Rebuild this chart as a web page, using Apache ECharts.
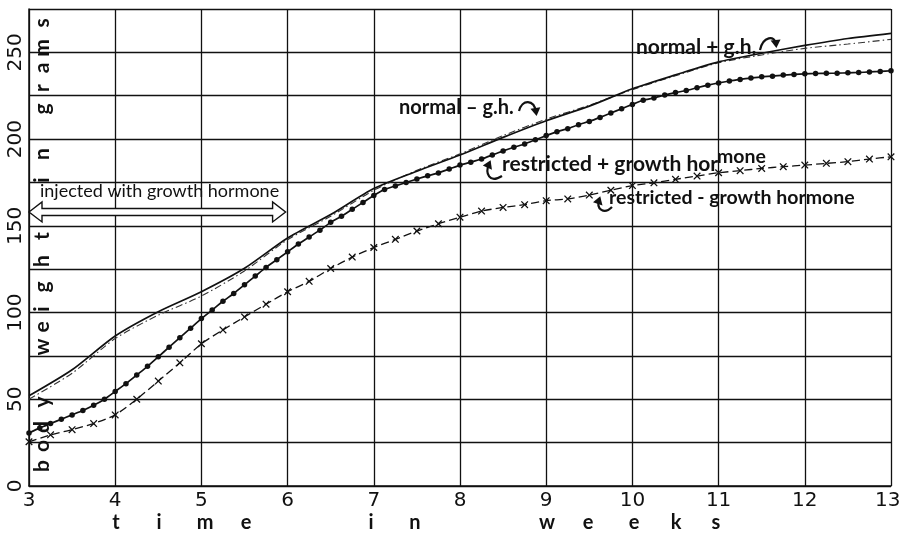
<!DOCTYPE html>
<html>
<head>
<meta charset="utf-8">
<script src="https://cdn.jsdelivr.net/npm/echarts@6/dist/echarts.min.js"></script>
<style>
  html, body { margin: 0; padding: 0; background: #fff; }
  #chart { width: 901px; height: 535px; }
</style>
</head>
<body>
<div id="chart"></div>
<script>
// Body weight (grams) against age (weeks)
const weeksHalf = [3, 3.5, 4, 4.5, 5, 5.5, 6, 6.5, 7, 7.5, 8, 8.5, 9, 9.5, 10, 10.5, 11, 11.5, 12, 12.5, 13];
const normalPlusGH = [52, 67, 86.5, 100.5, 112, 125.5, 143, 156.5, 171.5, 181.5, 190.8, 201, 210.6, 219, 229, 237, 244.5, 249.5, 254, 258, 261];
const normalMinusGH = [50, 65, 85, 98.5, 109.5, 124, 142, 155.5, 170.5, 182, 191.5, 202, 211.5, 219.5, 228.5, 236.5, 244, 248.5, 252.3, 254.8, 257.5];

// restricted + growth hormone, read every eighth of a week
const weeksEighth = [
  3, 3.125, 3.25, 3.375, 3.5, 3.625, 3.75, 3.875,
  4, 4.125, 4.25, 4.375, 4.5, 4.625, 4.75, 4.875,
  5, 5.125, 5.25, 5.375, 5.5, 5.625, 5.75, 5.875,
  6, 6.125, 6.25, 6.375, 6.5, 6.625, 6.75, 6.875,
  7, 7.125, 7.25, 7.375, 7.5, 7.625, 7.75, 7.875,
  8, 8.125, 8.25, 8.375, 8.5, 8.625, 8.75, 8.875,
  9, 9.125, 9.25, 9.375, 9.5, 9.625, 9.75, 9.875,
  10, 10.125, 10.25, 10.375, 10.5, 10.625, 10.75, 10.875,
  11, 11.125, 11.25, 11.375, 11.5, 11.625, 11.75, 11.875,
  12, 12.125, 12.25, 12.375, 12.5, 12.625, 12.75, 12.875, 13
];
const restrictedPlusGH = [
  30.5, 33.5, 36, 38.5, 41, 43.5, 46.5, 50,
  54.5, 59, 64, 69, 74.5, 80, 85.5, 91,
  96.5, 101.5, 106.5, 111, 116, 121, 126, 130.5,
  135, 139.5, 143.5, 147.5, 152, 155.5, 159.5, 163.5,
  167.5, 171, 173, 175, 177, 178.8, 180.5, 182.7,
  185, 186.7, 188.5, 190.8, 193.2, 195.3, 197.2, 199.6,
  202, 204.3, 206, 208.3, 210.2, 212.5, 215, 217.5,
  220, 222.4, 223.7, 225.4, 226.8, 228, 229.6, 231.1,
  232.4, 233.5, 234.4, 235.2, 235.9, 236.3, 236.9, 237.3,
  237.6, 237.8, 237.9, 238, 238.2, 238.4, 238.7, 239, 239.4
];

// restricted - growth hormone, read every quarter week
const weeksQuarter = [
  3, 3.25, 3.5, 3.75, 4, 4.25, 4.5, 4.75, 5, 5.25, 5.5, 5.75,
  6, 6.25, 6.5, 6.75, 7, 7.25, 7.5, 7.75, 8, 8.25, 8.5, 8.75,
  9, 9.25, 9.5, 9.75, 10, 10.25, 10.5, 10.75, 11, 11.25, 11.5, 11.75,
  12, 12.25, 12.5, 12.75, 13
];
const restrictedMinusGH = [
  25.5, 29.5, 32.5, 36, 41, 50, 60.5, 71, 82, 90, 97.5, 104.8,
  112, 118, 125.4, 132, 137.5, 142.2, 147, 151.2, 155, 158.5, 160.6, 162.2,
  164.5, 165.5, 167.7, 170.5, 173.2, 174.8, 176.8, 178.7, 180.6, 181.8, 183.1, 184.1,
  185, 186, 187, 188.5, 189.8
];

const yTickLabels = [0, 50, 100, 150, 200, 250];
const injectionPeriod = [3, 6];        // weeks
const injectionLevel = 158;            // grams, height of the bracket arrow

const pairs = (xs, ys) => xs.map((x, i) => [x, ys[i]]);
const INK = '#111111';
const crossSymbol = 'path://M0,1.2L1.2,0L5,3.8L8.8,0L10,1.2L6.2,5L10,8.8L8.8,10L5,6.2L1.2,10L0,8.8L3.8,5Z';

const chart = echarts.init(document.getElementById('chart'), null, { renderer: 'canvas' });

const option = {
  backgroundColor: '#ffffff',
  animation: false,
  grid: { left: 29, right: 10, top: 9, bottom: 49, show: false, containLabel: false, outerBoundsMode: 'none' },
  xAxis: {
    type: 'value', min: 3, max: 13, interval: 1,
    axisLine: { show: true, lineStyle: { color: INK, width: 1.5 } },
    axisTick: { show: false },
    splitLine: { show: true, lineStyle: { color: INK, width: 1.3 } },
    axisLabel: {
      color: INK, fontFamily: 'DejaVu Sans', fontSize: 20, margin: 5,
      formatter: v => (v === 13 ? '13 ' : String(v))
    }
  },
  yAxis: {
    type: 'value', min: 0, max: 275, interval: 25,
    axisLine: { show: true, lineStyle: { color: INK, width: 1.5 } },
    axisTick: { show: false },
    splitLine: { show: true, lineStyle: { color: INK, width: 1.3 } },
    axisLabel: {
      color: INK, fontFamily: 'DejaVu Sans', fontSize: 20, rotate: 90, margin: 3,
      formatter: v => (yTickLabels.indexOf(v) >= 0 ? String(v) : '')
    }
  },
  series: [
    {
      name: 'normal + g.h.', type: 'line', data: pairs(weeksHalf, normalPlusGH),
      smooth: 0.25, showSymbol: false, lineStyle: { color: INK, width: 1.7 }, z: 4
    },
    {
      name: 'normal - g.h.', type: 'line', data: pairs(weeksHalf, normalMinusGH),
      smooth: 0.25, showSymbol: false, lineStyle: { color: '#333', width: 1.1, type: [7, 3, 1.5, 3] }, z: 3
    },
    {
      name: 'restricted + growth hormone', type: 'line', data: pairs(weeksEighth, restrictedPlusGH),
      smooth: 0.2, symbol: 'circle', symbolSize: 5.5, showSymbol: true,
      itemStyle: { color: INK }, lineStyle: { color: INK, width: 1.7 }, z: 5
    },
    {
      name: 'restricted - growth hormone', type: 'line', data: pairs(weeksQuarter, restrictedMinusGH),
      smooth: 0.2, symbol: crossSymbol, symbolSize: 7.5, showSymbol: true,
      itemStyle: { color: INK }, lineStyle: { color: INK, width: 1.3, type: [8, 4] }, z: 5
    }
  ]
};
chart.setOption(option);

// ---- annotations --------------------------------------------------------
const annoFont = 'Lato';
const graphics = [];

function label(text, x, y, size, weight) {
  graphics.push({
    type: 'text', x: x, y: y, z: 20,
    style: { text: text, fill: INK, font: (weight || 'bold') + ' ' + (size || 20) + 'px ' + annoFont,
             textVerticalAlign: 'middle', textAlign: 'left' }
  });
}

function curlArrow(p0, c1, c2, p1) {
  graphics.push({
    type: 'bezierCurve', z: 20,
    shape: { x1: p0[0], y1: p0[1], cpx1: c1[0], cpy1: c1[1], cpx2: c2[0], cpy2: c2[1], x2: p1[0], y2: p1[1] },
    style: { stroke: INK, lineWidth: 2.2, fill: null }
  });
  const ang = Math.atan2(p1[1] - c2[1], p1[0] - c2[0]);
  const L = 8, W = 5;
  const tip = [p1[0] + Math.cos(ang) * 4, p1[1] + Math.sin(ang) * 4];
  const bx = tip[0] - Math.cos(ang) * L, by = tip[1] - Math.sin(ang) * L;
  graphics.push({
    type: 'polygon', z: 20,
    shape: { points: [tip, [bx - Math.sin(ang) * W, by + Math.cos(ang) * W], [bx + Math.sin(ang) * W, by - Math.cos(ang) * W]] },
    style: { fill: INK }
  });
}

// series labels
label('normal \u2013 g.h.', 399, 108);
curlArrow([519, 111], [522, 99], [534, 99], [536, 112]);

label('normal + g.h.', 636, 47, 21);
curlArrow([760, 50], [763, 36], [775, 35], [776, 44]);

label('restricted + growth hor', 502, 164, 21);
label('mone', 717, 157, 19.5);
curlArrow([502, 176], [489, 184], [485, 173], [489, 164]);

label('restricted - growth hormone', 609, 198, 19.5);
curlArrow([612, 207], [604, 215], [596, 209], [599, 200]);

// injection period bracket: hollow double-headed arrow
const pA = chart.convertToPixel({ gridIndex: 0 }, [injectionPeriod[0], injectionLevel]);
const pB = chart.convertToPixel({ gridIndex: 0 }, [injectionPeriod[1], injectionLevel]);
const yc = pA[1], x0 = pA[0], x1 = pB[0] - 2;
const hl = 13, hh = 10, sh = 3.5;
graphics.push({
  type: 'polygon', z: 20,
  shape: { points: [
    [x0, yc], [x0 + hl, yc - hh], [x0 + hl, yc - sh], [x1 - hl, yc - sh], [x1 - hl, yc - hh],
    [x1, yc], [x1 - hl, yc + hh], [x1 - hl, yc + sh], [x0 + hl, yc + sh], [x0 + hl, yc + hh]
  ] },
  style: { fill: '#fff', stroke: INK, lineWidth: 1.4 }
});
label('injected with growth hormone', 40, 191, 18, 'normal');

// spaced-out axis titles
const xTitle = [['t', 116], ['i', 159], ['m', 205], ['e', 246], ['i', 371], ['n', 415],
                ['w', 547], ['e', 588], ['e', 634], ['k', 676], ['s', 716]];
xTitle.forEach(([ch, x]) => graphics.push({
  type: 'text', x: x, y: 523, z: 20,
  style: { text: ch, fill: INK, font: 'bold 20px ' + annoFont, textAlign: 'center', textVerticalAlign: 'middle' }
}));

const yTitle = [['b', 466], ['o', 446], ['d', 427], ['y', 402],
                ['w', 347], ['e', 327], ['i', 309], ['g', 287], ['h', 261], ['t', 236],
                ['i', 180], ['n', 154],
                ['g', 109], ['r', 88], ['a', 68], ['m', 48], ['s', 23]];
yTitle.forEach(([ch, y]) => graphics.push({
  type: 'text', x: 42, y: y, z: 20, rotation: Math.PI / 2,
  style: { text: ch, fill: INK, font: 'bold 21px ' + annoFont, textAlign: 'center', textVerticalAlign: 'middle' }
}));

chart.setOption({ graphic: graphics });
</script>
</body>
</html>
